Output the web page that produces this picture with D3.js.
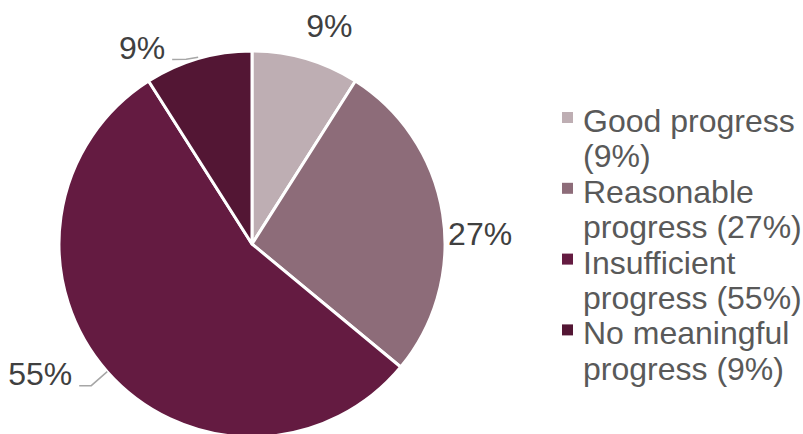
<!DOCTYPE html>
<html>
<head>
<meta charset="utf-8">
<script src="https://cdn.jsdelivr.net/npm/d3@7"></script>
<style>
  html, body { margin: 0; padding: 0; background: #ffffff; }
  svg { display: block; }
</style>
</head>
<body>
<svg id="chart" width="803" height="434"></svg>
<script>
const categories = ["Good progress", "Reasonable progress", "Insufficient progress", "No meaningful progress"];
const values = [9, 27, 55, 9];
const dataLabels = ["9%", "27%", "55%", "9%"];
const legendLines = [
  ["Good progress", "(9%)"],
  ["Reasonable", "progress (27%)"],
  ["Insufficient", "progress (55%)"],
  ["No meaningful", "progress (9%)"]
];
const colors = ["#BEAEB3", "#8D6C79", "#641B41", "#531634"];

const W = 803, H = 434;
const cx = 252, cy = 244, R = 193;
const font = "'Liberation Sans', Arial, sans-serif";

const svg = d3.select("#chart");
const g = svg.append("g").attr("transform", `translate(${cx},${cy})`);

const pie = d3.pie().sort(null).value(d => d);
const arcs = pie(values);
const arc = d3.arc().innerRadius(0).outerRadius(R);

g.selectAll("path.slice")
  .data(arcs)
  .join("path")
  .attr("class", "slice")
  .attr("d", arc)
  .attr("fill", (d, i) => colors[i])
  .attr("stroke", "#ffffff")
  .attr("stroke-width", 3)
  .attr("stroke-linejoin", "round");

// edge point at mid angle
function edge(d) {
  const a = (d.startAngle + d.endAngle) / 2;
  return [R * Math.sin(a), -R * Math.cos(a)];
}

const labelG = g.append("g");
arcs.forEach((d, i) => {
  const [ex, ey] = edge(d);
  let x, y, anchor, leader = null;
  if (i === 0) { x = ex + 23.5; y = ey - 22; anchor = "middle"; }
  else if (i === 1) { x = ex + 5.5; y = ey + 31; anchor = "start"; }
  else if (i === 2) {
    leader = [[ex, ey], [ex - 16, ey + 14], [ex - 28, ey + 14]];
    x = ex - 35; y = ey + 13; anchor = "end";
  } else {
    leader = [[ex, ey - 1.5], [ex - 12, ey + 0.5], [ex - 26, ey + 0.8]];
    x = ex - 33; y = ey + 0.5; anchor = "end";
  }
  if (leader) {
    labelG.append("path")
      .attr("d", d3.line()(leader))
      .attr("fill", "none")
      .attr("stroke", "#A6A6A6")
      .attr("stroke-width", 1.5);
  }
  labelG.append("text")
    .attr("x", x).attr("y", y)
    .attr("text-anchor", anchor)
    .attr("font-family", font)
    .attr("font-size", 32)
    .attr("fill", "#404040")
    .text(dataLabels[i]);
});

// legend
const legX = 562, textX = 583, firstBase = 132, lineH = 35.4, sq = 11;
const leg = svg.append("g");
categories.forEach((c, i) => {
  const base = firstBase + i * 2 * lineH;
  leg.append("rect")
    .attr("x", legX).attr("y", base - 20)
    .attr("width", sq).attr("height", sq)
    .attr("fill", colors[i]);
  const t = leg.append("text")
    .attr("font-family", font)
    .attr("font-size", 32)
    .attr("fill", "#595959");
  legendLines[i].forEach((ln, j) => {
    t.append("tspan").attr("x", textX).attr("y", base + j * lineH).text(ln);
  });
});
</script>
</body>
</html>
